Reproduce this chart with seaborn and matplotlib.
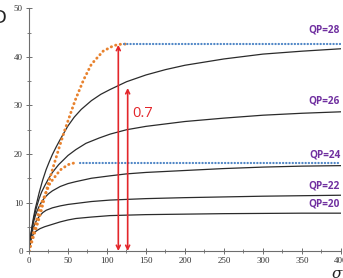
import numpy as np
import pandas as pd
import matplotlib
matplotlib.use("Agg")
import matplotlib.pyplot as plt
import seaborn as sns
from matplotlib.ticker import MultipleLocator

# ---- data ----
qp28_x = [0, 2, 4, 6, 8, 10, 13, 17.5, 22, 26, 30, 35, 40, 46, 50, 58, 67, 80, 92,
          104, 125, 150, 175, 200, 250, 300, 350, 400]
qp28_y = [0, 2.9, 5.2, 7.1, 8.7, 10.0, 12.0, 14.6, 16.8, 18.4, 19.9, 21.5, 23.0,
          24.7, 25.8, 27.6, 29.2, 31.0, 32.3, 33.3, 34.9, 36.3, 37.4, 38.3, 39.6,
          40.6, 41.2, 41.7]

qp26_x = [0, 2, 4, 6, 8, 10, 13, 16, 20, 25, 30, 38, 50, 60, 73, 90, 104, 125, 150,
          175, 200, 250, 300, 350, 400]
qp26_y = [0, 2.8, 4.9, 6.6, 8.0, 9.2, 10.8, 12.1, 13.4, 14.9, 16.2, 17.8, 19.7,
          20.9, 22.2, 23.3, 24.1, 25.0, 25.7, 26.2, 26.7, 27.4, 28.0, 28.4, 28.7]

qp24_x = [0, 2, 4, 6, 8, 10, 13, 16, 20, 25, 30, 40, 50, 60, 80, 104, 125, 150,
          200, 250, 300, 350, 400]
qp24_y = [0, 2.6, 4.6, 6.1, 7.2, 8.1, 9.2, 10.1, 11.0, 11.8, 12.4, 13.3, 13.9,
          14.3, 15.0, 15.5, 15.9, 16.2, 16.6, 17.0, 17.3, 17.5, 17.6]

qp22_x = [0, 2, 4, 6, 8, 10, 13, 17.5, 22, 30, 40, 50, 60, 80, 104, 150, 200, 250,
          300, 350, 400]
qp22_y = [0, 2.4, 3.9, 5.0, 5.8, 6.4, 7.1, 7.9, 8.4, 8.9, 9.3, 9.6, 9.8, 10.2,
          10.5, 10.8, 11.0, 11.15, 11.3, 11.4, 11.5]

qp20_x = [0, 2, 4, 6, 8, 10, 14, 20, 30, 40, 50, 60, 80, 104, 150, 200, 250, 300,
          350, 400]
qp20_y = [0, 2.0, 3.0, 3.6, 3.95, 4.2, 4.6, 5.0, 5.5, 6.0, 6.4, 6.7, 7.0, 7.3,
          7.5, 7.6, 7.7, 7.75, 7.8, 7.8]

orange_big_x = [0, 7, 14, 24, 31, 39, 46, 51, 59, 70, 80, 95, 108, 115, 128]
orange_big_y = [0, 3.6, 7.3, 13.5, 17.3, 21.5, 25.0, 27.3, 31.0, 35.3, 38.5, 41.2,
                42.3, 42.6, 42.7]

orange_small_x = [0, 7, 14, 27, 40, 50, 59]
orange_small_y = [0, 4.6, 9.1, 14.0, 16.7, 17.8, 18.2]

blue_top_x = [122, 400]
blue_top_y = [42.7, 42.7]
blue_low_x = [66, 400]
blue_low_y = [18.2, 18.2]

qp_labels = ["QP=28", "QP=26", "QP=24", "QP=22", "QP=20"]
qp_label_y = [45.6, 30.9, 19.8, 13.4, 9.7]

arrow_x = [114.5, 126.5]
arrow_top = [42.5, 33.6]
ratio_text = "0.7"

x_ticks = [0, 50, 100, 150, 200, 250, 300, 350, 400]
y_ticks = [0, 10, 20, 30, 40, 50]

# ---- drawing ----
sns.set_theme(style="white")
plt.rcParams["font.family"] = ["DejaVu Sans"]

fig = plt.figure(figsize=(3.43, 2.78), dpi=100)
ax = fig.add_axes([29 / 343, 27 / 278, 312 / 343, 242.5 / 278])

black = "#2b2b2b"
for xs, ys in [(qp28_x, qp28_y), (qp26_x, qp26_y), (qp24_x, qp24_y),
               (qp22_x, qp22_y), (qp20_x, qp20_y)]:
    sns.lineplot(x=xs, y=ys, ax=ax, color=black, lw=0.9, sort=False,
                 estimator=None)

orange = "#E8822E"
for xs, ys in [(orange_big_x, orange_big_y), (orange_small_x, orange_small_y)]:
    sns.lineplot(x=xs, y=ys, ax=ax, color=orange, lw=2.1, sort=False,
                 estimator=None, linestyle=(0, (0.1, 1.5)),
                 dash_capstyle="round")

blue = "#4F86C6"
for xs, ys in [(blue_top_x, blue_top_y), (blue_low_x, blue_low_y)]:
    sns.lineplot(x=xs, y=ys, ax=ax, color=blue, lw=1.6, sort=False,
                 estimator=None, linestyle=(0, (0.1, 1.35)),
                 dash_capstyle="round")

red = "#E3262B"
for ax_x, top in zip(arrow_x, arrow_top):
    ax.annotate("", xy=(ax_x, top), xytext=(ax_x, 0),
                arrowprops=dict(arrowstyle="<->", color=red, lw=1.2,
                                shrinkA=0, shrinkB=0, mutation_scale=7))
ax.text(133, 28.4, ratio_text, color=red, fontsize=10.5, va="center",
        ha="left", family=["Open Sans", "DejaVu Sans"])

purple = "#7030A0"
for lab, yy in zip(qp_labels, qp_label_y):
    ax.text(399, yy, lab, color=purple, fontsize=7.2, fontweight="bold",
            ha="right", va="center", family=["Open Sans", "DejaVu Sans"])

ax.set_xlim(0, 400)
ax.set_ylim(0, 50)
ax.set_xticks(x_ticks)
ax.set_yticks(y_ticks)
ax.xaxis.set_minor_locator(MultipleLocator(25))
ax.yaxis.set_minor_locator(MultipleLocator(5))
for s in ["top", "right"]:
    ax.spines[s].set_visible(False)
for s in ["left", "bottom"]:
    ax.spines[s].set_color("#6e6e6e")
    ax.spines[s].set_linewidth(0.8)
ax.tick_params(which="major", direction="inout", length=5, width=0.7,
               color="#6e6e6e", labelsize=6.5, pad=2, left=True, bottom=True)
ax.tick_params(which="minor", direction="inout", length=3, width=0.6,
               color="#6e6e6e", left=True, bottom=True)
for lab in ax.get_xticklabels() + ax.get_yticklabels():
    lab.set_family(["Liberation Serif", "DejaVu Serif"])
    lab.set_color("#333333")
ax.grid(False)
ax.set_facecolor("white")

fig.text(-0.022, 0.935, "D", fontsize=13, color="#222222", va="center",
         ha="left")
fig.text(0.968, -0.012, "σ", fontsize=11, style="italic", color="#222222",
         va="bottom", ha="left", family=["DejaVu Serif"])

fig.savefig("out.png", dpi=100)
